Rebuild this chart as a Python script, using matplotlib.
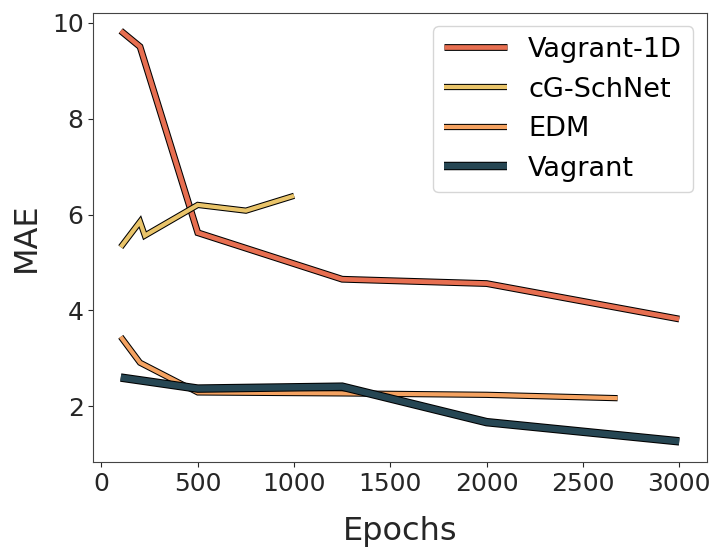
import matplotlib
matplotlib.use("Agg")
import matplotlib.pyplot as plt
import matplotlib.patheffects as pe

# MAE over training epochs for each model
vag1d_epochs = [100, 200, 500, 1250, 2000, 3000]
vag1d_mae = [9.83, 9.50, 5.62, 4.65, 4.56, 3.82]

cgs_epochs = [100, 200, 225, 500, 750, 1000]
cgs_mae = [5.32, 5.85, 5.56, 6.20, 6.08, 6.39]

edm_epochs = [100, 200, 500, 1250, 2000, 2680]
edm_mae = [3.45, 2.91, 2.29, 2.27, 2.24, 2.17]

vag_epochs = [100, 500, 1250, 2000, 3000]
vag_mae = [2.60, 2.37, 2.41, 1.67, 1.27]

fig = plt.figure(figsize=(7.13, 5.48), dpi=100)
ax = fig.add_axes([0.131, 0.157, 0.86, 0.82])

def outlined(w):
    return [pe.Stroke(linewidth=w + 1.5, foreground="black"), pe.Normal()]

ax.plot(vag1d_epochs, vag1d_mae, color="#e76f51", lw=3.4, label="Vagrant-1D",
        solid_capstyle="butt", solid_joinstyle="miter", path_effects=outlined(3.4))
ax.plot(cgs_epochs, cgs_mae, color="#e9c46a", lw=3.0, label="cG-SchNet",
        solid_capstyle="butt", solid_joinstyle="miter", path_effects=outlined(3.0))
ax.plot(edm_epochs, edm_mae, color="#f4a261", lw=3.0, label="EDM",
        solid_capstyle="butt", solid_joinstyle="miter", path_effects=outlined(3.0))
ax.plot(vag_epochs, vag_mae, color="#264653", lw=4.6, label="Vagrant",
        solid_capstyle="butt", solid_joinstyle="miter", path_effects=outlined(4.6))

ax.set_xlim(-42, 3142)
ax.set_ylim(0.84, 10.21)
ax.set_xticks([0, 500, 1000, 1500, 2000, 2500, 3000])
ax.set_yticks([2, 4, 6, 8, 10])
ax.tick_params(labelsize=18, colors="#262626")
for s in ax.spines.values():
    s.set_color("#444444")

ax.set_xlabel("Epochs", fontsize=23, labelpad=14.5, color="#262626")
ax.set_ylabel("MAE", fontsize=23, labelpad=7, color="#262626")
ax.legend(loc="upper right", fontsize=19.5, handlelength=2.3)

fig.savefig("out.png", dpi=100)
